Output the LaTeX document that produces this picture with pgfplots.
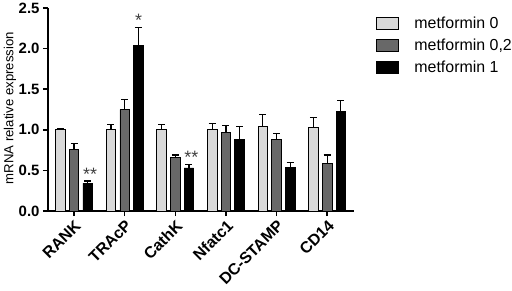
\documentclass[border=0pt]{standalone}
\usepackage{pgfplots}
\pgfplotsset{compat=1.18}
\usepackage{fontspec}
\setmainfont{Liberation Sans}
\definecolor{lightbar}{HTML}{D9D9D9}
\definecolor{darkbar}{HTML}{686868}
\begin{document}
\begin{tikzpicture}[x=1bp,y=1bp]
\path[use as bounding box] (-48bp,-80bp) rectangle (464bp,211bp);
\begin{axis}[
  at={(0,0)}, anchor=south west,
  scale only axis, width=306bp, height=203bp,
  xmin=-0.514, xmax=5.53, ymin=0, ymax=2.5,
  axis x line*=bottom, axis y line*=left,
  axis line style={-, line width=1.8bp, black},
  xtick={0,1,2,3,4,5},
  xticklabels={RANK,TRAcP,CathK,Nfatc1,DC-STAMP,CD14},
  ytick={0,0.5,1,1.5,2,2.5},
  tick align=outside, major tick length=5bp,
  tick style={line width=1.5bp, black},
  yticklabel style={font=\bfseries\fontsize{15}{15}\selectfont, /pgf/number format/.cd, fixed, fixed zerofill, precision=1, assume math mode=true},
  xticklabel style={font=\bfseries\fontsize{16}{16}\selectfont, rotate=45, anchor=north east, inner sep=2bp},
  ylabel={mRNA relative expression},
  ylabel style={font=\fontsize{13.2}{13.2}\selectfont, at={(axis description cs:-0.124,0.507)}, anchor=center, rotate=0},
  ybar, bar width=9.5bp,
  error bars/error bar style={line width=1.2bp, black},
  error bars/error mark options={rotate=90, mark size=3.5bp, line width=1.2bp, black},
  legend style={at={(axis description cs:1.07,0.965)}, anchor=north west, draw=none, fill=none, font=\fontsize{16}{16}\selectfont, row sep=5bp, inner sep=0pt, /tikz/every odd column/.append style={column sep=14bp}},
  legend cell align=left,
  legend image code/.code={\draw[#1, line width=0.8bp] (0bp,-6bp) rectangle (22bp,6bp);},
]
\addplot[fill=lightbar, draw=black, line width=0.8bp, bar shift=-13.7bp,
  error bars/.cd, y dir=plus, y explicit]
  coordinates {(0,1.00) +- (0,0.01) (1,1.00) +- (0,0.07) (2,1.00) +- (0,0.07) (3,1.00) +- (0,0.08) (4,1.04) +- (0,0.15) (5,1.03) +- (0,0.12)};
\addplot[fill=darkbar, draw=black, line width=0.8bp, bar shift=0bp,
  error bars/.cd, y dir=plus, y explicit]
  coordinates {(0,0.76) +- (0,0.07) (1,1.25) +- (0,0.12) (2,0.66) +- (0,0.03) (3,0.97) +- (0,0.08) (4,0.88) +- (0,0.07) (5,0.59) +- (0,0.10)};
\addplot[fill=black, draw=black, line width=0.8bp, bar shift=13.7bp,
  error bars/.cd, y dir=plus, y explicit]
  coordinates {(0,0.34) +- (0,0.03) (1,2.04) +- (0,0.22) (2,0.53) +- (0,0.04) (3,0.88) +- (0,0.16) (4,0.54) +- (0,0.06) (5,1.23) +- (0,0.13)};
\legend{metformin 0, metformin 0{,}2, metformin 1}
\node[font=\fontsize{18}{18}\selectfont, text=black!75, anchor=south, inner sep=0bp, xshift=16bp] at (axis cs:0,0.37) {**};
\node[font=\fontsize{18}{18}\selectfont, text=black!75, anchor=south, inner sep=0bp, xshift=14bp] at (axis cs:1,2.27) {*};
\node[font=\fontsize{18}{18}\selectfont, text=black!75, anchor=south, inner sep=0bp, xshift=16bp] at (axis cs:2,0.58) {**};
\end{axis}
\end{tikzpicture}
\end{document}
